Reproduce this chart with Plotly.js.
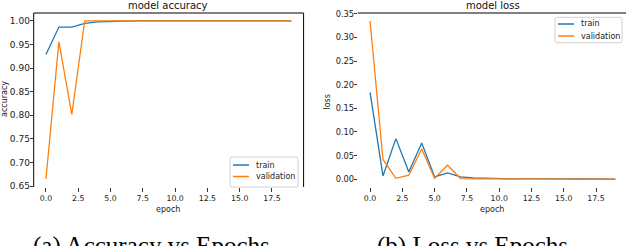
<!DOCTYPE html>
<html><head><meta charset="utf-8">
<script src="https://cdn.plot.ly/plotly-3.0.1.min.js"></script>
<style>html,body{margin:0;padding:0;background:#fff;}#chart{width:626px;height:246px;}</style>
</head><body><div id="chart"></div><script>
const epochs = [0,1,2,3,4,5,6,7,8,9,10,11,12,13,14,15,16,17,18,19];
const accTrain = [0.929,0.987,0.987,0.995,0.998,0.999,1,1,1,1,1,1,1,1,1,1,1,1,1,1];
const accVal = [0.665,0.956,0.802,1,1,1,1,1,1,1,1,1,1,1,1,1,1,1,1,1];
const lossTrain = [0.184,0.007,0.086,0.0155,0.0765,0.005,0.0135,0.005,0.003,0.002,0.0015,0.001,0.0012,0.0015,0.0013,0.0008,0.0005,0.0004,0.0004,0.0003];
const lossVal = [0.335,0.042,0.002,0.0085,0.064,0.002,0.0297,0.0015,0.001,0.0008,0.0006,0.0005,0.0005,0.0005,0.0005,0.0004,0.0004,0.0004,0.0004,0.0004];
const seriesNames = ['train','validation'];
const xTicks = [0,2.5,5,7.5,10,12.5,15,17.5];
const accTicks = [0.65,0.70,0.75,0.80,0.85,0.90,0.95,1.00];
const lossTicks = [0,0.05,0.10,0.15,0.20,0.25,0.30,0.35];
const titles = ['model accuracy','model loss'];
const yTitles = ['accuracy','loss'];
const xTitle = 'epoch';
const captions = ['(a) Accuracy vs Epochs','(b) Loss vs Epochs'];

const W=626,H=246;
const px=x=>x/W, py=y=>1-y/H;
const blue='#1f77b4', orange='#ff7f0e';
const colors=[blue,orange];
const lw=1.3;
const fam='DejaVu Sans';

const traces=[
 {x:epochs,y:accTrain,name:seriesNames[0],mode:'lines',line:{color:blue,width:lw},xaxis:'x',yaxis:'y'},
 {x:epochs,y:accVal,name:seriesNames[1],mode:'lines',line:{color:orange,width:lw},xaxis:'x',yaxis:'y'},
 {x:epochs,y:lossTrain,name:seriesNames[0],mode:'lines',line:{color:blue,width:lw},xaxis:'x2',yaxis:'y2'},
 {x:epochs,y:lossVal,name:seriesNames[1],mode:'lines',line:{color:orange,width:lw},xaxis:'x2',yaxis:'y2'}
];

const L1=px(33.7),R1=px(303.6),L2=px(357.8),R2=1.0,T=py(13),B=py(187);
const axX={showgrid:false,zeroline:false,showline:false,ticks:'outside',ticklen:3.5,tickwidth:0.8,tickcolor:'#000',tickvals:xTicks,tickformat:'.1f',tickfont:{family:fam,size:7.8,color:'#222'},automargin:false};
const axY={showgrid:false,zeroline:false,showline:false,ticks:'outside',ticklen:3,tickwidth:0.8,tickcolor:'#000',tickformat:'.2f',automargin:false,ticklabelstandoff:-2};

const shapes=[
  {type:'line',xref:'paper',yref:'paper',x0:L1,x1:L1,y0:B,y1:T,line:{color:'#000',width:1}},
  {type:'line',xref:'paper',yref:'paper',x0:L1,x1:R1,y0:T,y1:T,line:{color:'#000',width:1}},
  {type:'line',xref:'paper',yref:'paper',x0:R1,x1:R1,y0:B,y1:T,line:{color:'#000',width:1}},
  {type:'line',xref:'paper',yref:'paper',x0:L2,x1:R2,y0:T,y1:T,line:{color:'#000',width:1}}
];
const annotations=[
  {text:titles[0],x:px(168),y:py(5.5),font:{family:fam,size:10,color:'#111'}},
  {text:titles[1],x:px(493),y:py(5.5),font:{family:fam,size:10,color:'#111'}},
  {text:xTitle,x:px(168),y:py(209.5),font:{family:fam,size:8,color:'#222'}},
  {text:xTitle,x:px(492),y:py(209.5),font:{family:fam,size:8,color:'#222'}},
  {text:yTitles[0],x:px(4),y:py(99),textangle:-90,font:{family:fam,size:8,color:'#222'}},
  {text:yTitles[1],x:px(327.5),y:py(102),textangle:-90,font:{family:fam,size:8,color:'#222'}},
  {text:captions[0],x:px(151),y:py(229.5),yanchor:'top',font:{family:'Liberation Serif',size:25,color:'#000'}},
  {text:captions[1],x:px(472),y:py(229.5),yanchor:'top',font:{family:'Liberation Serif',size:25,color:'#000'}}
].map(a=>Object.assign({xref:'paper',yref:'paper',xanchor:'center',yanchor:'middle',showarrow:false},a));

function addLegend(bx0,bx1,by0,by1,rowY){
  const r=2;
  const X=v=>px(v), Y=v=>py(v);
  shapes.push({type:'path',xref:'paper',yref:'paper',fillcolor:'rgba(255,255,255,0.85)',line:{color:'#d0d0d0',width:1},
    path:`M ${X(bx0+r)} ${Y(by0)} L ${X(bx1-r)} ${Y(by0)} Q ${X(bx1)} ${Y(by0)} ${X(bx1)} ${Y(by0+r)} L ${X(bx1)} ${Y(by1-r)} Q ${X(bx1)} ${Y(by1)} ${X(bx1-r)} ${Y(by1)} L ${X(bx0+r)} ${Y(by1)} Q ${X(bx0)} ${Y(by1)} ${X(bx0)} ${Y(by1-r)} L ${X(bx0)} ${Y(by0+r)} Q ${X(bx0)} ${Y(by0)} ${X(bx0+r)} ${Y(by0)} Z`});
  seriesNames.forEach((n,i)=>{
    shapes.push({type:'line',xref:'paper',yref:'paper',x0:X(bx0+3),x1:X(bx0+19),y0:Y(rowY[i]),y1:Y(rowY[i]),line:{color:colors[i],width:1.5}});
    annotations.push({text:n,xref:'paper',yref:'paper',x:X(bx0+24),y:Y(rowY[i]),xanchor:'left',yanchor:'middle',showarrow:false,font:{family:fam,size:8,color:'#222'}});
  });
}
addLegend(230,298,157,187,[165,176.5]);
addLegend(555,622,17.3,42.7,[24,36]);

const layout={
 width:W,height:H,margin:{l:0,r:0,t:0,b:0},paper_bgcolor:'#fff',plot_bgcolor:'#fff',showlegend:false,
 xaxis:Object.assign({},axX,{domain:[L1,R1],range:[-0.95,19.95],anchor:'y'}),
 yaxis:Object.assign({},axY,{domain:[B,T],range:[0.648,1.0168],tickvals:accTicks,anchor:'x',tickfont:{family:fam,size:9,color:'#222'}}),
 xaxis2:Object.assign({},axX,{domain:[L2,R2],range:[-0.95,19.82],anchor:'y2'}),
 yaxis2:Object.assign({},axY,{domain:[B,T],range:[-0.0164,0.3518],tickvals:lossTicks,anchor:'x2',tickfont:{family:fam,size:8.3,color:'#222'}}),
 shapes:shapes,annotations:annotations
};
Plotly.newPlot('chart',traces,layout,{displayModeBar:false,staticPlot:true});
</script></body></html>
